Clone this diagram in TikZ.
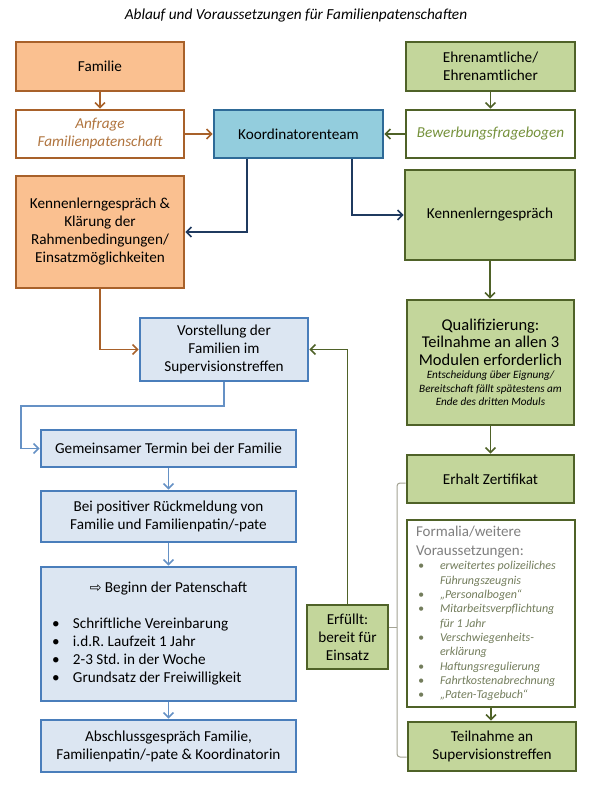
\documentclass[tikz,border=0pt]{standalone}
\usepackage{fontspec}
\setmainfont{Carlito}
\newfontfamily\arrowfont{DejaVu Sans}
\usepackage{tikz}
\usetikzlibrary{arrows.meta}
\setlength{\parindent}{0pt}
\frenchspacing

\definecolor{orfill}{HTML}{FAC090}
\definecolor{ordraw}{HTML}{A8612A}
\definecolor{ortext}{HTML}{B0743E}
\definecolor{kofill}{HTML}{93CDDD}
\definecolor{kodraw}{HTML}{2E6A97}
\definecolor{navy}{HTML}{1F3A5F}
\definecolor{lbfill}{HTML}{DCE6F2}
\definecolor{lbdraw}{HTML}{4A7EBB}
\definecolor{grfill}{HTML}{C3D69B}
\definecolor{grdraw}{HTML}{4F6228}
\definecolor{grtext}{HTML}{76923C}
\definecolor{grayt}{HTML}{7F7F7F}
\definecolor{bultext}{HTML}{737D5C}
\definecolor{brack}{HTML}{A4A494}

\newcommand{\boxfont}{\fontsize{15.2}{18}\selectfont}
\newcommand{\fbul}{\makebox[24pt][l]{\hspace{2pt}\textbullet}}
\newcommand{\bbul}{\hspace*{11pt}\makebox[21pt][l]{\textbullet}}

\begin{document}
\begin{tikzpicture}[x=1pt,y=-1pt,
    basebox/.style={draw, line width=2.6pt, align=center, inner sep=0pt, font=\boxfont, text=black},
    orbox/.style={basebox, fill=orfill, draw=ordraw},
    orwhite/.style={basebox, fill=white, draw=ordraw, text=ortext, font=\boxfont\itshape},
    kobox/.style={basebox, fill=kofill, draw=kodraw},
    lbbox/.style={basebox, fill=lbfill, draw=lbdraw},
    grbox/.style={basebox, fill=grfill, draw=grdraw},
    grwhite/.style={basebox, fill=white, draw=grdraw, text=grtext, font=\boxfont\itshape},
    arr/.style={line width=1.6pt, -{Straight Barb[length=5pt,width=10pt]}},
    orarrow/.style={arr, draw=ordraw},
    navyarrow/.style={arr, draw=navy},
    lbarrow/.style={arr, draw=lbdraw!85},
    grarrow/.style={arr, draw=grdraw},
    bracket/.style={draw=brack, line width=1pt, rounded corners=3pt}]

  \useasboundingbox[fill=white] (0,0) rectangle (590,786);

  \node[font=\fontsize{15.3}{18}\selectfont\itshape] (title) at (296,16) {Ablauf und Voraussetzungen für Familienpatenschaften};

  % Familie side
  \node[orbox, minimum width=168pt, minimum height=49pt] (fam) at (100,66.5) {Familie};
  \node[orwhite, minimum width=168pt, minimum height=48pt] (anf) at (100,134) {Anfrage\\Familienpatenschaft};
  \node[orbox, minimum width=168pt, minimum height=112pt] (kenO) at (100,232) {Kennenlerngespräch \&\\Klärung der\\Rahmenbedingungen/\\Einsatzmöglichkeiten};

  % middle
  \node[kobox, minimum width=169pt, minimum height=48pt] (koord) at (298.5,134) {Koordinatorenteam};

  % Ehrenamtliche side
  \node[grbox, minimum width=169pt, minimum height=49pt] (ehr) at (490.5,66.5) {Ehrenamtliche/\\Ehrenamtlicher};
  \node[grwhite, minimum width=169pt, minimum height=48pt] (bew) at (490.5,134) {Bewerbungsfragebogen};
  \node[grbox, minimum width=170pt, minimum height=90pt] (kenG) at (490,215) {Kennenlerngespräch};
  \node[grbox, minimum width=167pt, minimum height=125pt, text width=165pt, align=flush center] (qual) at (490.5,362.5)
    {{\fontsize{16.5}{17.5}\selectfont Qualifizierung:\\Teilnahme an allen 3\\Modulen erforderlich\par}
     {\fontsize{11.2}{13.5}\selectfont\itshape Entscheidung über Eignung/\\Bereitschaft fällt spätestens am\\Ende des dritten Moduls\par}};
  \node[grbox, minimum width=167pt, minimum height=48pt] (zert) at (490.5,479) {Erhalt Zertifikat};
  \node[grwhite, minimum width=168pt, minimum height=187pt, text width=150pt, align=flush left] (form) at (491,613.5)
    {{\color{grayt}\fontsize{15}{19}\selectfont\upshape Formalia/weitere\\Voraussetzungen:\par}
     {\color{bultext}\fontsize{12}{14.3}\selectfont
      \fbul\textit{erweitertes polizeiliches}\\
      \hspace*{24pt}\textit{Führungszeugnis}\\
      \fbul\textit{„Personalbogen“}\\
      \fbul\textit{Mitarbeitsverpflichtung}\\
      \hspace*{24pt}\textit{für 1 Jahr}\\
      \fbul\textit{Verschwiegenheits-}\\
      \hspace*{24pt}\textit{erklärung}\\
      \fbul\textit{Haftungsregulierung}\\
      \fbul\textit{Fahrtkostenabrechnung}\\
      \fbul\textit{„Paten-Tagebuch“}\par}};
  \node[grbox, minimum width=168pt, minimum height=49pt] (teil) at (492,746.5) {Teilnahme an\\Supervisionstreffen};
  \node[grbox, line width=2pt, minimum width=81pt, minimum height=64pt] (erf) at (347.5,637) {Erfüllt:\\bereit für\\Einsatz};

  % Patenschaft
  \node[lbbox, minimum width=168pt, minimum height=63pt] (vor) at (224,349.5) {Vorstellung der\\Familien im\\Supervisionstreffen};
  \node[lbbox, minimum width=255pt, minimum height=37pt] (gem) at (168.5,448.5) {Gemeinsamer Termin bei der Familie};
  \node[lbbox, minimum width=255pt, minimum height=51pt] (bei) at (168.5,516.5) {Bei positiver Rückmeldung von\\Familie und Familienpatin/-pate};
  \node[lbbox, minimum width=255pt, minimum height=134pt, text width=255pt, align=flush left] (beg) at (168.5,634)
    {{\centering{\arrowfont\fontsize{14}{14}\selectfont ⇨} Beginn der Patenschaft\par}
     \vspace{18pt}
     \bbul Schriftliche Vereinbarung\\
     \bbul i.d.R. Laufzeit 1 Jahr\\
     \bbul 2-3 Std. in der Woche\\
     \bbul Grundsatz der Freiwilligkeit\par};
  \node[lbbox, minimum width=255pt, minimum height=52pt] (abs) at (168.5,746) {Abschlussgespräch Familie,\\Familienpatin/-pate \& Koordinatorin};

  \coordinate (bend) at (21,406);
  \coordinate (brtop) at (397,483);
  \coordinate (brmid) at (397,627);
  \coordinate (brbot) at (397,757);

  % connectors
  \draw[orarrow] (fam) -- (anf);
  \draw[orarrow] (anf) -- (koord);
  \draw[grarrow] (ehr) -- (bew);
  \draw[grarrow] (bew) -- (koord);
  \draw[navyarrow] ([xshift=-51.5pt]koord.south) |- (kenO);
  \draw[navyarrow] ([xshift=53.5pt]koord.south) |- (kenG);
  \draw[grarrow] (kenG.south) -- (kenG.south |- qual.north);
  \draw[grarrow] (qual) -- (zert);
  \draw[grarrow] (form.south) -- (form.south |- teil.north);
  \draw[orarrow] (kenO) |- (vor);
  \draw[grarrow] (erf) |- (vor);
  \draw[lbarrow] (vor) |- (bend) |- (gem);
  \draw[lbarrow] (gem) -- (bei);
  \draw[lbarrow] (bei) -- (beg);
  \draw[lbarrow] (beg) -- (abs);

  \draw[bracket] ([yshift=-4pt]zert.west) -- (brtop) -- (brbot) -- ([yshift=-10.5pt]teil.west);
  \draw[bracket] (brmid) -- ([yshift=10pt]erf.east);

\end{tikzpicture}
\end{document}
